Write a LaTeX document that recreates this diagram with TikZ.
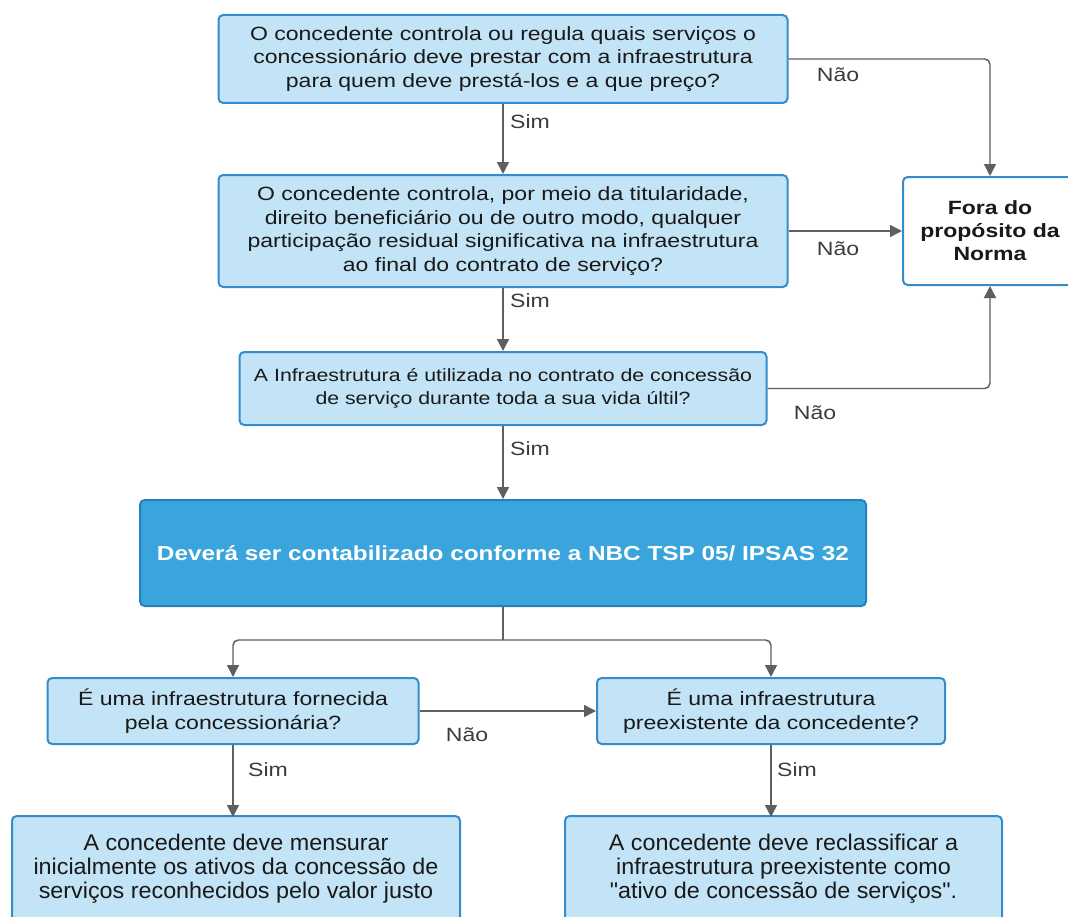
\documentclass[tikz,border=0pt]{standalone}
\usepackage{fontspec}
\setmainfont{Liberation Sans}
\newfontfamily\boxfont[FakeStretch=1.2]{Liberation Sans}
\newfontfamily\resfont[Ligatures=TeXOff]{Liberation Sans}
\usetikzlibrary{arrows.meta}
\definecolor{lightfill}{RGB}{195,228,246}
\definecolor{lightborder}{RGB}{52,140,204}
\definecolor{darkfill}{RGB}{58,165,220}
\definecolor{darkborder}{RGB}{38,128,190}
\definecolor{conngray}{RGB}{95,95,95}
\definecolor{labelgray}{RGB}{60,60,60}
\definecolor{boxtext}{RGB}{25,25,25}
\newcommand{\pxu}{0.75pt}
\tikzset{
  qbox/.style={draw=lightborder, fill=lightfill, line width=1.5pt, rounded corners=3.5pt,
    align=center, inner sep=0pt, text=boxtext,
    font=\boxfont\fontsize{14.4pt}{17.6pt}\selectfont},
  whitebox/.style={draw=lightborder, fill=white, line width=1.5pt, rounded corners=3.5pt,
    align=center, inner sep=0pt, text=boxtext,
    font=\boxfont\bfseries\fontsize{14.4pt}{17.3pt}\selectfont},
  darkbox/.style={draw=darkborder, fill=darkfill, line width=1.5pt, rounded corners=3.5pt,
    align=center, inner sep=0pt, text=white,
    font=\boxfont\bfseries\fontsize{15.2pt}{17.6pt}\selectfont},
  resbox/.style={draw=lightborder, fill=lightfill, line width=1.5pt, rounded corners=3.5pt,
    align=center, inner sep=0pt, text=boxtext},
  restext/.style={align=center, inner sep=0pt, text=boxtext,
    font=\resfont\fontsize{17pt}{18pt}\selectfont, xscale=1.03, transform shape},
  conn/.style={draw=conngray, line width=1.1pt, rounded corners=4pt},
  arrowc/.style={conn, -{Triangle[length=9pt,width=9pt]}},
  lbl/.style={text=labelgray, inner sep=0pt, font=\boxfont\fontsize{14.4pt}{17pt}\selectfont}
}
\begin{document}
\begin{tikzpicture}[x=0.75pt,y=-0.75pt]
\useasboundingbox (0,0) rectangle (1068,917);
\fill[white] (0,0) rectangle (1068,917);

\node[qbox, minimum width=569*\pxu, minimum height=88*\pxu] (q1) at (503,59)
  {O concedente controla ou regula quais serviços o\\concessionário deve prestar com a infraestrutura\\para quem deve prestá-los e a que preço?};
\node[qbox, minimum width=569*\pxu, minimum height=112*\pxu] (q2) at (503,231)
  {O concedente controla, por meio da titularidade,\\direito beneficiário ou de outro modo, qualquer\\participação residual significativa na infraestrutura\\ao final do contrato de serviço?};
\node[whitebox, minimum width=174*\pxu, minimum height=108*\pxu] (fora) at (990,231)
  {Fora do\\propósito da\\Norma};
\node[qbox, font=\boxfont\fontsize{13.3pt}{17pt}\selectfont, minimum width=527*\pxu, minimum height=73*\pxu] (q3) at (503,388.5)
  {A Infraestrutura é utilizada no contrato de concessão\\de serviço durante toda a sua vida últil?};
\node[darkbox, minimum width=726*\pxu, minimum height=106*\pxu] (norma) at (503,553)
  {Deverá ser contabilizado conforme a NBC TSP 05/ IPSAS 32};
\node[qbox, minimum width=371*\pxu, minimum height=66*\pxu] (q4) at (233,711)
  {É uma infraestrutura fornecida\\pela concessionária?};
\node[qbox, minimum width=348*\pxu, minimum height=66*\pxu] (q5) at (771,711)
  {É uma infraestrutura\\preexistente da concedente?};
\node[resbox, minimum width=448*\pxu, minimum height=116*\pxu, anchor=north] (r1) at (236,815) {};
\node[resbox, minimum width=437*\pxu, minimum height=116*\pxu, anchor=north] (r2) at (783.5,815) {};
\node[restext] (r1t) at (236,869)
  {A concedente deve mensurar\\inicialmente os ativos da concessão de\\serviços reconhecidos pelo valor justo};
\node[restext] (r2t) at (783.5,869)
  {A concedente deve reclassificar a\\infraestrutura preexistente como\\"ativo de concessão de serviços".};

\coordinate (split) at (503,640);

\draw[arrowc] (q1.south) -- (q2.north);
\draw[arrowc] (q2.south) -- (q3.north);
\draw[arrowc] (q3.south) -- (norma.north);
\draw[arrowc] (q1.east) -| (fora.north);
\draw[arrowc] (q2.east) -- (fora.west);
\draw[arrowc] (q3.east) -| (fora.south);
\draw[conn] (norma.south) -- (split);
\draw[arrowc] (split) -| (q4.north);
\draw[arrowc] (split) -| (q5.north);
\draw[arrowc] (q4.east) -- (q5.west);
\draw[arrowc] (q4.south) -- ([yshift=-1.5pt]r1.north -| q4.south);
\draw[arrowc] (q5.south) -- ([yshift=-1.5pt]r2.north -| q5.south);

\node[lbl] (s1) at (530,122) {Sim};
\node[lbl] (n1) at (838,75) {Não};
\node[lbl] (n2) at (838,249) {Não};
\node[lbl] (s2) at (530,301) {Sim};
\node[lbl] (n3) at (815,413) {Não};
\node[lbl] (s3) at (530,449) {Sim};
\node[lbl] (n4) at (467,735) {Não};
\node[lbl] (s4) at (268,770) {Sim};
\node[lbl] (s5) at (797,770) {Sim};
\end{tikzpicture}
\end{document}
